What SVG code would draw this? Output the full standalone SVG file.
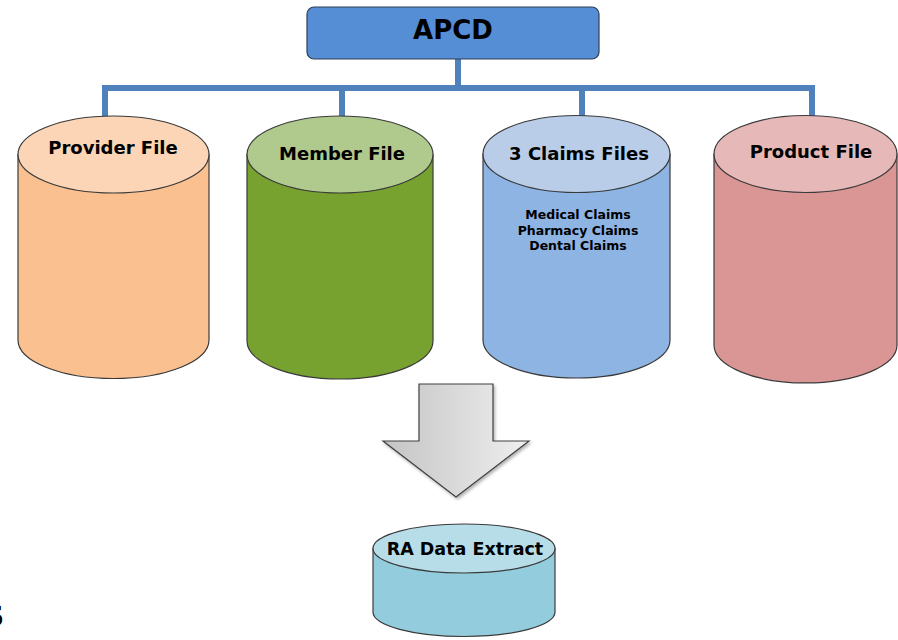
<svg xmlns="http://www.w3.org/2000/svg" width="898" height="640" viewBox="0 0 898 640">
<style>
  .t { font-family: "DejaVu Sans", Verdana, sans-serif; font-weight: bold; fill: #000; text-anchor: middle; }
  .cyl { stroke: #3a3a3a; stroke-width: 1.2; }
  .conn { stroke: #4F81BD; stroke-width: 6; fill: none; }
</style>
<defs>
  <linearGradient id="arrowGrad" x1="0" y1="0" x2="1" y2="0">
    <stop offset="0" stop-color="#c4c4c4"/>
    <stop offset="1" stop-color="#efefef"/>
  </linearGradient>
  <filter id="sh" x="-10%" y="-10%" width="130%" height="130%">
    <feDropShadow dx="1.5" dy="2" stdDeviation="1.5" flood-color="#000" flood-opacity="0.3"/>
  </filter>
</defs>

<g id="connectors">
  <path class="conn" d="M458 59 V88 M102 88 H815 M105 85 V118 M342 85 V118 M582 85 V118 M812 85 V118"/>
</g>

<g id="apcd">
  <rect x="307" y="7" width="292" height="52" rx="7" fill="#558ED5" stroke="#2f3f55" stroke-width="1.2"/>
  <text class="t" x="453" y="39" font-size="26">APCD</text>
</g>

<g id="provider">
  <path class="cyl" fill="#FAC090" d="M18 154.5 V340 A95.5 38.5 0 0 0 209 340 V154.5 Z"/>
  <ellipse class="cyl" fill="#FBD5B5" cx="113.5" cy="154.5" rx="95.5" ry="38.5"/>
  <text class="t" x="113" y="154" font-size="18">Provider File</text>
</g>

<g id="member">
  <path class="cyl" fill="#77A22F" d="M247 154.5 V341 A93 38 0 0 0 433 341 V154.5 Z"/>
  <ellipse class="cyl" fill="#B0C98C" cx="340" cy="154.5" rx="93" ry="38.5"/>
  <text class="t" x="342" y="160" font-size="18">Member File</text>
</g>

<g id="claims">
  <path class="cyl" fill="#8EB4E3" d="M483 154 V340 A93.5 38 0 0 0 670 340 V154 Z"/>
  <ellipse class="cyl" fill="#B9CDE9" cx="576.5" cy="154" rx="93.5" ry="38.5"/>
  <text class="t" x="579" y="160" font-size="18">3 Claims Files</text>
  <text class="t" x="578" y="219" font-size="12.5">Medical Claims</text>
  <text class="t" x="578" y="234.5" font-size="12.5">Pharmacy Claims</text>
  <text class="t" x="578" y="250" font-size="12.5">Dental Claims</text>
</g>

<g id="product">
  <path class="cyl" fill="#D99694" d="M714 154 V345 A91.5 38 0 0 0 897 345 V154 Z"/>
  <ellipse class="cyl" fill="#E6B9B8" cx="805.5" cy="154" rx="91.5" ry="38.5"/>
  <text class="t" x="811" y="158" font-size="18">Product File</text>
</g>

<g id="arrow">
  <polygon points="419,384 493,384 493,441 529,441 456,497 383,441 419,441" fill="url(#arrowGrad)" stroke="#404040" stroke-width="1.2" filter="url(#sh)"/>
</g>

<g id="ra-extract">
  <path class="cyl" fill="#93CDDD" d="M373 548.5 V612 A91 24.5 0 0 0 555 612 V548.5 Z"/>
  <ellipse class="cyl" fill="#B7DEE8" cx="464" cy="548.5" rx="91" ry="24.5"/>
  <text class="t" x="465" y="555" font-size="17.5">RA Data Extract</text>
</g>

<text class="t" x="-6" y="626" font-size="28" style="text-anchor:middle">S</text>
</svg>
